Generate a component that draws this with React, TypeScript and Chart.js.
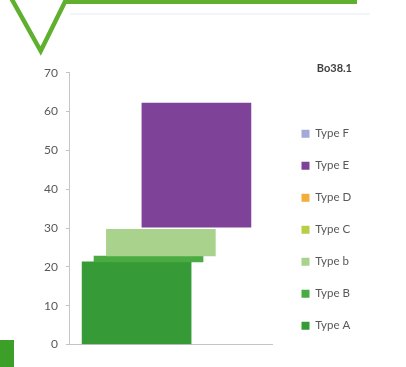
import { useEffect, useRef } from 'react';
import { Chart, registerables } from 'chart.js';

Chart.register(...registerables);

// ---- data ----
const chartTitle = 'Bo38.1';
const seriesNames = ['Type F', 'Type E', 'Type D', 'Type C', 'Type b', 'Type B', 'Type A'];
const seriesColors = ['#a3aad8', '#7e4398', '#f3ad3a', '#b9cd45', '#a9d38c', '#4aab42', '#369a36'];
// position of each bar along the (unlabelled) horizontal axis, 0..100
const seriesPos: (number | null)[] = [null, 62.6, null, null, 45.0, 38.9, 33.0];
const seriesLow: (number | null)[] = [null, 30.2, null, null, 22.8, 21.3, 0];
const seriesHigh: (number | null)[] = [null, 62.2, null, null, 29.7, 22.8, 21.3];
const yTicks = [0, 10, 20, 30, 40, 50, 60, 70];

export default function App() {
  const ref = useRef<HTMLCanvasElement>(null);

  useEffect(() => {
    document.body.style.margin = '0';
    const datasets = seriesNames.map((name, i) => ({
      label: name,
      data:
        seriesPos[i] == null
          ? []
          : [{ x: seriesPos[i], y: [seriesLow[i], seriesHigh[i]] }],
      backgroundColor: seriesColors[i],
      borderWidth: 0,
      barThickness: 109,
      grouped: false,
    }));

    const chart = new Chart(ref.current as HTMLCanvasElement, {
      type: 'bar',
      data: { datasets } as any,
      options: {
        animation: false,
        responsive: false,
        layout: { padding: { left: 36, right: 54, top: 0, bottom: 15 } },
        plugins: {
          tooltip: { enabled: false },
          title: {
            display: true,
            text: chartTitle,
            align: 'end',
            color: '#404040',
            font: { family: 'Lato', size: 11, weight: 'bold', lineHeight: 0.8 },
            padding: { top: 64, bottom: 0 },
          },
          legend: {
            position: 'right',
            align: 'end',
            maxWidth: 71,
            labels: {
              boxWidth: 8,
              boxHeight: 8,
              padding: 20.5,
              color: '#595959',
              font: { family: 'Lato', size: 11.5 },
            },
          },
        },
        scales: {
          x: {
            type: 'linear',
            min: 0,
            max: 100,
            offset: false,
            ticks: { display: false },
            grid: {
              display: true,
              drawOnChartArea: false,
              drawTicks: true,
              tickLength: 7.5,
              color: 'rgba(0,0,0,0)',
            },
            border: { display: true, color: '#c4c4c4' },
          },
          y: {
            type: 'linear',
            min: 0,
            max: 70,
            afterBuildTicks: (s: any) => {
              s.ticks = yTicks.map((v) => ({ value: v }));
            },
            ticks: {
              color: '#595959',
              font: { family: 'Lato', size: 12 },
              padding: 8,
            },
            grid: {
              display: true,
              drawOnChartArea: false,
              drawTicks: true,
              tickLength: 4,
              color: '#c4c4c4',
            },
            border: { display: true, color: '#c4c4c4' },
          },
          gap: {
            type: 'linear',
            position: 'right',
            display: true,
            ticks: { display: false },
            grid: { display: false },
            border: { display: false },
            afterFit: (s: any) => {
              s.width = 9;
            },
          },
        },
      } as any,
    });
    return () => chart.destroy();
  }, []);

  return (
    <div style={{ position: 'relative', width: 406, height: 367, background: '#ffffff', overflow: 'hidden' }}>
      <canvas ref={ref} width={406} height={367} style={{ display: 'block' }} />
      <svg
        width={406}
        height={367}
        style={{ position: 'absolute', left: 0, top: 0, pointerEvents: 'none' }}
      >
        <line x1={70} y1={14} x2={370} y2={14} stroke="#e3e9f4" strokeWidth={1} />
        <polyline
          points="10,-4 40.7,51 65,1.8 357,1.8"
          fill="none"
          stroke="#60b030"
          strokeWidth={4.5}
          strokeLinejoin="miter"
        />
        <rect x={0} y={340} width={14} height={27} fill="#3ca028" />
      </svg>
    </div>
  );
}
